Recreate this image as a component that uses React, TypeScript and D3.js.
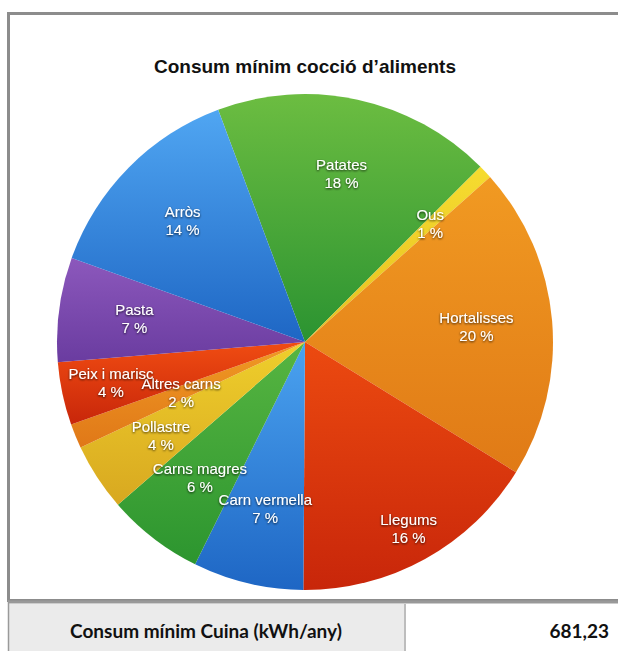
import React from "react";
import * as d3 from "d3";

const title = "Consum mínim cocció d’aliments";
const categories = [
  "Patates",
  "Ous",
  "Hortalisses",
  "Llegums",
  "Carn vermella",
  "Carns magres",
  "Pollastre",
  "Altres carns",
  "Peix i marisc",
  "Pasta",
  "Arròs",
];
const values = [18.2, 0.9, 20.4, 16.3, 7.2, 6.3, 4.4, 1.6, 4.1, 6.8, 13.8];
const tableLabel = "Consum mínim Cuina (kWh/any)";
const tableValue = "681,23";

// styles
const colorsTop = [
  "#6cbd41", "#f6dc30", "#f19a22", "#ec4a10", "#4ba3f0", "#57b541",
  "#efcf2c", "#f09a24", "#f04c12", "#8c58bc", "#50a6f2",
];
const colorsBottom = [
  "#2b9331", "#e6bf20", "#e07a16", "#c8260a", "#1e66c4", "#2c952f",
  "#d8a820", "#e07818", "#c8260a", "#6a3ca0", "#1e66c4",
];
const labelRadiusFactor: Record<string, number> = {
  Llegums: 0.863,
  "Peix i marisc": 0.8,
  "Altres carns": 0.54,
};

const W = 618;
const H = 651;
const cx = 305;
const cy = 342;
const R = 248;
const startDeg = -20.5;

export default function App() {
  const start = (startDeg * Math.PI) / 180;
  const pie = d3
    .pie<number>()
    .sort(null)
    .startAngle(start)
    .endAngle(start + 2 * Math.PI);
  const arcs = pie(values);
  const arc = d3.arc<d3.PieArcDatum<number>>().innerRadius(0).outerRadius(R);

  return (
    <div style={{ position: "absolute", left: 0, top: 0, width: W, height: H }}>
      <svg width={W} height={H} style={{ display: "block" }}>
        <defs>
          {categories.map((c, i) => (
            <linearGradient key={c} id={`g${i}`} x1="0" y1="0" x2="0" y2="1">
              <stop offset="0%" stopColor={colorsTop[i]} />
              <stop offset="100%" stopColor={colorsBottom[i]} />
            </linearGradient>
          ))}
          <filter id="ts" x="-20%" y="-40%" width="140%" height="180%">
            <feDropShadow dx="0" dy="1" stdDeviation="1" floodColor="#000" floodOpacity="0.8" />
          </filter>
        </defs>
        <rect x={0} y={0} width={W} height={H} fill="#fff" />
        {/* frame */}
        <rect x={8.5} y={13.5} width={W + 10} height={587} fill="#fff" stroke="#8c8c8c" strokeWidth={3} />
        <text
          x={cx}
          y={73}
          textAnchor="middle"
          fontFamily="'Liberation Sans', Arial, Helvetica, sans-serif"
          fontWeight="bold"
          fontSize={19}
          fill="#111"
        >
          {title}
        </text>
        <g transform={`translate(${cx},${cy})`}>
          {arcs.map((a, i) => (
            <path key={categories[i]} d={arc(a) || ""} fill={`url(#g${i})`} />
          ))}
          {arcs.map((a, i) => {
            const name = categories[i];
            const f = labelRadiusFactor[name] ?? 0.694;
            const mid = (a.startAngle + a.endAngle) / 2;
            const lr = R * f;
            const x = Math.sin(mid) * lr;
            const y = -Math.cos(mid) * lr;
            return (
              <g
                key={`l${name}`}
                filter="url(#ts)"
                fontFamily="'Liberation Sans', Arial, Helvetica, sans-serif"
                fontSize={15}
                fill="#fff"
                textAnchor="middle"
              >
                <text x={x} y={y - 4}>{name}</text>
                <text x={x} y={y + 14}>{`${Math.round(a.value)} %`}</text>
              </g>
            );
          })}
        </g>
        {/* table */}
        <rect x={8} y={604} width={397} height={H - 604} fill="#ebebeb" />
        <line x1={8} y1={602} x2={W} y2={602} stroke="#999" strokeWidth={3} />
        <line x1={8.5} y1={600} x2={8.5} y2={H} stroke="#9a9a9a" strokeWidth={1.5} />
        <line x1={405} y1={604} x2={405} y2={H} stroke="#bdbdbd" strokeWidth={2} />
        <text
          x={206}
          y={638}
          textAnchor="middle"
          fontFamily="Lato, 'Open Sans', sans-serif"
          fontWeight="bold"
          fontSize={19}
          fill="#111"
        >
          {tableLabel}
        </text>
        <text
          x={609}
          y={638}
          textAnchor="end"
          fontFamily="Lato, 'Open Sans', sans-serif"
          fontWeight="bold"
          fontSize={19}
          fill="#111"
        >
          {tableValue}
        </text>
      </svg>
    </div>
  );
}
